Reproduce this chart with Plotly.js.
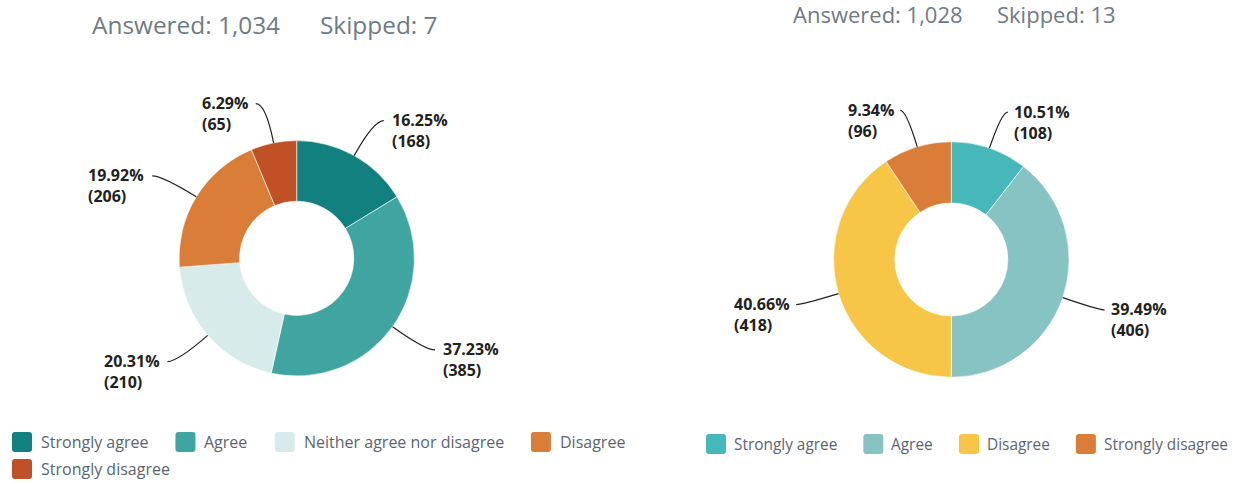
<!DOCTYPE html>
<html><head><meta charset="utf-8">
<script src="https://cdn.plot.ly/plotly-3.0.1.min.js"></script>
<style>html,body{margin:0;padding:0;background:#fff}#chart{width:1233px;height:484px}</style>
</head><body><div id="chart"></div>
<script>
const W = 1233, H = 484;

// ---- data ----
const leftLabels = ["Strongly agree", "Agree", "Neither agree nor disagree", "Disagree", "Strongly disagree"];
const leftValues = [168, 385, 210, 206, 65];
const leftColors = ["#138080", "#40a4a1", "#d7ecea", "#d97d38", "#c05127"];
const leftAnswered = 1034, leftSkipped = 7;

const rightLabels = ["Strongly agree", "Agree", "Disagree", "Strongly disagree"];
const rightValues = [108, 406, 418, 96];
const rightColors = ["#46b8b9", "#88c3c3", "#f7c647", "#d97d38"];
const rightAnswered = 1028, rightSkipped = 13;

// ---- layout geometry (pixels) ----
const leftGeo = {cx: 296.7, cy: 258.3, r: 117.7, hole: 0.485, lead: 40, hook: 10, pad: 6};
const rightGeo = {cx: 951.3, cy: 259.5, r: 117.8, hole: 0.48, lead: 38, hook: 6, pad: 4};

const FAMILY = '"Open Sans", Roboto, Arial, sans-serif';
const px = x => x / W;
const py = y => 1 - y / H;
const fmtInt = n => n.toLocaleString('en-US');

function domainOf(g) {
  return {x: [px(g.cx - g.r), px(g.cx + g.r)], y: [py(g.cy + g.r), py(g.cy - g.r)]};
}

function pieTrace(labels, values, colors, g) {
  return {
    type: 'pie', labels: labels, values: values, sort: false, direction: 'clockwise',
    rotation: 0, hole: g.hole, domain: domainOf(g), textinfo: 'none', showlegend: false,
    marker: {colors: colors, line: {color: '#ffffff', width: 0.6}},
    hoverinfo: 'label+value+percent'
  };
}

const shapes = [];
const annotations = [];
const labelFont = {family: FAMILY, size: 16, color: '#222222'};

function addLeaders(values, g) {
  const total = values.reduce((a, b) => a + b, 0);
  let cum = 0;
  values.forEach(v => {
    const mid = (cum + v / 2) / total * 2 * Math.PI;
    cum += v;
    const s = Math.sin(mid), c = Math.cos(mid);
    const side = s >= 0 ? 1 : -1;
    const p0 = [g.cx + g.r * s, g.cy - g.r * c];
    const rEnd = g.r + g.lead;
    const p1 = [g.cx + rEnd * s, g.cy - rEnd * c];
    const p2 = [p1[0] + side * g.hook, p1[1]];
    shapes.push({
      type: 'path', xref: 'paper', yref: 'paper', layer: 'above',
      path: `M${px(p0[0])},${py(p0[1])} Q${px(p1[0])},${py(p1[1])} ${px(p2[0])},${py(p2[1])}`,
      line: {color: '#222222', width: 1.2}
    });
    const pct = (v / total * 100).toFixed(2) + '%';
    annotations.push({
      xref: 'paper', yref: 'paper', x: px(p2[0] + side * g.pad), y: py(p2[1] + 10),
      xanchor: side > 0 ? 'left' : 'right', yanchor: 'middle', align: 'left',
      showarrow: false, text: `<b>${pct}</b><br><b>(${v})</b>`, font: labelFont
    });
  });
}

function addHeader(answered, skipped, xA, xS, y, size) {
  const f = {family: FAMILY, size: size, color: '#6f7b84'};
  annotations.push({xref: 'paper', yref: 'paper', x: px(xA), y: py(y), xanchor: 'left', yanchor: 'middle',
    showarrow: false, borderpad: 0, text: 'Answered: ' + fmtInt(answered), font: f});
  annotations.push({xref: 'paper', yref: 'paper', x: px(xS), y: py(y), xanchor: 'left', yanchor: 'middle',
    showarrow: false, borderpad: 0, text: 'Skipped: ' + fmtInt(skipped), font: f});
}

const ctx = document.createElement('canvas').getContext('2d');

function roundedSquare(x, y, s, r) {
  return `M${px(x + r)},${py(y)} L${px(x + s - r)},${py(y)} Q${px(x + s)},${py(y)} ${px(x + s)},${py(y + r)} ` +
    `L${px(x + s)},${py(y + s - r)} Q${px(x + s)},${py(y + s)} ${px(x + s - r)},${py(y + s)} ` +
    `L${px(x + r)},${py(y + s)} Q${px(x)},${py(y + s)} ${px(x)},${py(y + s - r)} ` +
    `L${px(x)},${py(y + r)} Q${px(x)},${py(y)} ${px(x + r)},${py(y)} Z`;
}

function addLegend(labels, colors, x0, y0, maxRight, rowH, fontSize, textOff, gap) {
  ctx.font = fontSize + 'px "Open Sans"';
  let x = x0, y = y0;
  const sq = 20;
  labels.forEach((lab, i) => {
    const tw = ctx.measureText(lab).width;
    if (x + textOff + tw > maxRight && x > x0) { x = x0; y += rowH; }
    shapes.push({type: 'path', xref: 'paper', yref: 'paper', layer: 'above',
      path: roundedSquare(x, y - sq / 2, sq, 3), fillcolor: colors[i], line: {width: 0}});
    annotations.push({xref: 'paper', yref: 'paper', x: px(x + textOff - 1), y: py(y), xanchor: 'left', yanchor: 'middle',
      showarrow: false, text: lab, font: {family: FAMILY, size: fontSize, color: '#5b6670'}});
    x += textOff + tw + gap;
  });
}

addHeader(leftAnswered, leftSkipped, 91, 319, 25, 24.4);
addHeader(rightAnswered, rightSkipped, 792, 996, 14, 22);
addLeaders(leftValues, leftGeo);
addLeaders(rightValues, rightGeo);
addLegend(leftLabels, leftColors, 12, 442, 650, 27, 16, 28, 28);
addLegend(rightLabels, rightColors, 706, 444, 1233, 27, 15.4, 27, 27);

const data = [
  pieTrace(leftLabels, leftValues, leftColors, leftGeo),
  pieTrace(rightLabels, rightValues, rightColors, rightGeo)
];

const layout = {
  width: W, height: H, margin: {l: 0, r: 0, t: 0, b: 0},
  paper_bgcolor: '#ffffff', plot_bgcolor: '#ffffff',
  showlegend: false, shapes: shapes, annotations: annotations,
  font: {family: FAMILY}
};

Plotly.newPlot('chart', data, layout, {displayModeBar: false, staticPlot: true});
</script>
</body></html>
